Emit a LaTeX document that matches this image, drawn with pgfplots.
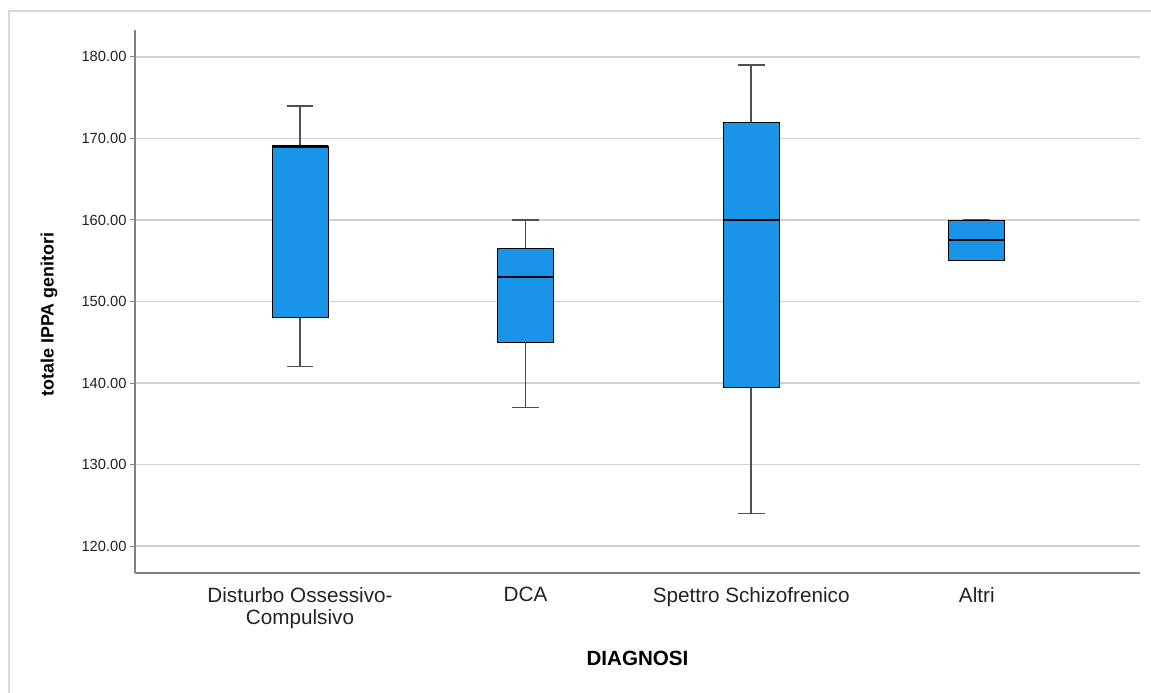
\documentclass[border=0pt]{standalone}
\usepackage{pgfplots}
\pgfplotsset{compat=1.18}
\usepackage{fontspec}
\setmainfont{Liberation Sans}

\definecolor{boxblue}{RGB}{25,148,232}
\definecolor{gridgray}{RGB}{208,208,208}
\definecolor{axisgray}{RGB}{130,130,130}
\definecolor{whiskgray}{RGB}{80,80,80}
\definecolor{framegray}{RGB}{215,215,215}
\definecolor{textgray}{RGB}{35,35,35}

% box: half width 0.124, whisker cap: half width 0.059
\newcommand{\boxfive}[6]{% pos, lower whisker, Q1, median, Q3, upper whisker
  \addplot[draw=whiskgray, line width=1.5bp] coordinates {(#1,#3) (#1,#2)};
  \addplot[draw=whiskgray, line width=1.5bp] coordinates {(#1-0.059,#2) (#1+0.059,#2)};
  \addplot[draw=whiskgray, line width=1.5bp] coordinates {(#1,#5) (#1,#6)};
  \addplot[draw=whiskgray, line width=1.5bp] coordinates {(#1-0.059,#6) (#1+0.059,#6)};
  \addplot[draw=black, fill=boxblue, line width=0.9bp] coordinates
    {(#1-0.124,#3) (#1+0.124,#3) (#1+0.124,#5) (#1-0.124,#5)} -- cycle;
  \addplot[draw=black, line width=2.2bp] coordinates {(#1-0.124,#4) (#1+0.124,#4)};
}

\begin{document}
\begin{tikzpicture}
\path[use as bounding box] (0bp,0bp) rectangle (1151bp,693bp);
% window frame
\draw[framegray, line width=2bp] (9bp,0bp) -- (9bp,682bp) -- (1151bp,682bp);

\begin{axis}[
  at={(135bp,120bp)}, anchor=south west,
  scale only axis,
  width=1005bp, height=543bp,
  xmin=0.2686, xmax=4.7234,
  ymin=116.7, ymax=183.3,
  axis lines=left,
  axis line style={axisgray, line width=1.3bp, -},
  xtick={1,2,3,4},
  xticklabels={{Disturbo Ossessivo-\\Compulsivo},{DCA},{Spettro Schizofrenico},{Altri}},
  xticklabel style={align=center, font=\fontsize{20.7bp}{21.5bp}\selectfont, text=textgray, yshift=-6bp},
  x tick style={draw=none},
  ytick={120,130,...,180},
  y tick style={axisgray, line width=1bp},
  tick align=outside,
  major tick length=5bp,
  yticklabel style={font=\fontsize{14.7bp}{17bp}\selectfont, text=textgray,
    /pgf/number format/.cd, fixed, fixed zerofill, precision=2, assume math mode=true},
  ymajorgrids,
  grid style={gridgray, line width=1.3bp},
  xlabel={DIAGNOSI},
  ylabel={totale IPPA genitori},
  every axis x label/.style={at={(axis description cs:0.5,-0.158)}, anchor=center,
    font=\bfseries\fontsize{20.6bp}{22bp}\selectfont, text=black},
  every axis y label/.style={at={(axis description cs:-0.0856,0.476)}, anchor=center, rotate=90,
    font=\bfseries\fontsize{17.9bp}{20bp}\selectfont, text=black},
]
% Disturbo Ossessivo-Compulsivo
\boxfive{1}{142}{148}{169}{169}{174}
% DCA
\boxfive{2}{137}{145}{153}{156.5}{160}
% Spettro Schizofrenico
\boxfive{3}{124}{139.5}{160}{172}{179}
% Altri
\boxfive{4}{155}{155}{157.5}{160}{160}
\end{axis}
\end{tikzpicture}
\end{document}
